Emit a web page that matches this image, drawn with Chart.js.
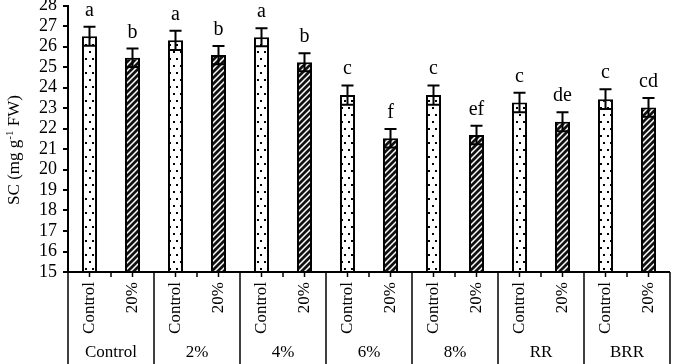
<!DOCTYPE html>
<html lang="en">
<head>
    <meta charset="UTF-8">
    <title>SC by treatment</title>
    <script src="https://cdn.jsdelivr.net/npm/chart.js"></script>
    <style>
        body { margin: 0; background: #fff; }
        canvas { display: block; }
    </style>
</head>
<body>
    <canvas id="scChart" width="673" height="364"></canvas>
    <script>
        // data
        var groups = ['Control', '2%', '4%', '6%', '8%', 'RR', 'BRR'];
        var treatments = ['Control', '20%'];
        var controlMeans = [26.5, 26.3, 26.45, 23.63, 23.63, 23.27, 23.43];
        var stressMeans = [25.45, 25.58, 25.23, 21.52, 21.68, 22.33, 23.03];
        var controlErr = [0.46, 0.47, 0.44, 0.47, 0.47, 0.48, 0.48];
        var stressErr = [0.45, 0.44, 0.44, 0.45, 0.45, 0.46, 0.46];
        var controlLetters = ['a', 'a', 'a', 'c', 'c', 'c', 'c'];
        var stressLetters = ['b', 'b', 'b', 'f', 'ef', 'de', 'cd'];
        var yMin = 15, yMax = 28, yStep = 1;

        var SERIF = 'Liberation Serif';

        // flatten into one bar per treatment within each group
        var labels = [], values = [], errs = [], letters = [], kinds = [];
        groups.forEach(function(g, i) {
            labels.push(treatments[0]); values.push(controlMeans[i]); errs.push(controlErr[i]); letters.push(controlLetters[i]); kinds.push(0);
            labels.push(treatments[1]); values.push(stressMeans[i]); errs.push(stressErr[i]); letters.push(stressLetters[i]); kinds.push(1);
        });

        function dotPattern() {
            var c = document.createElement('canvas');
            c.width = 7; c.height = 14;
            var g = c.getContext('2d');
            g.fillStyle = '#fff'; g.fillRect(0, 0, 7, 14);
            g.fillStyle = '#000';
            g.fillRect(1, 2, 2, 2);
            g.fillRect(5, 9, 2, 2);
            return g.createPattern(c, 'repeat');
        }
        function hatchPattern() {
            var c = document.createElement('canvas');
            c.width = 6; c.height = 6;
            var g = c.getContext('2d');
            g.fillStyle = '#111'; g.fillRect(0, 0, 6, 6);
            g.strokeStyle = '#fff'; g.lineWidth = 1.5;
            g.beginPath();
            g.moveTo(0, 6); g.lineTo(6, 0);
            g.moveTo(-3, 3); g.lineTo(3, -3);
            g.moveTo(3, 9); g.lineTo(9, 3);
            g.stroke();
            return g.createPattern(c, 'repeat');
        }
        var fills = [dotPattern(), hatchPattern()];

        // error bars + significance letters
        var errorBars = {
            id: 'errorBars',
            afterDatasetsDraw: function(chart) {
                var ctx = chart.ctx, y = chart.scales.y;
                var meta = chart.getDatasetMeta(0);
                ctx.save();
                ctx.strokeStyle = '#000';
                ctx.lineWidth = 2;
                meta.data.forEach(function(bar, i) {
                    var top = y.getPixelForValue(values[i] + errs[i]);
                    var bot = y.getPixelForValue(values[i] - errs[i]);
                    ctx.beginPath();
                    ctx.moveTo(bar.x, top); ctx.lineTo(bar.x, bot);
                    ctx.moveTo(bar.x - 6, top); ctx.lineTo(bar.x + 6, top);
                    ctx.moveTo(bar.x - 6, bot); ctx.lineTo(bar.x + 6, bot);
                    ctx.stroke();
                    ctx.fillStyle = '#000';
                    ctx.font = '20px "' + SERIF + '"';
                    ctx.textAlign = 'center';
                    ctx.textBaseline = 'alphabetic';
                    ctx.fillText(letters[i], bar.x, top - 11);
                });
                ctx.restore();
            }
        };

        // two-level category axis and y title drawn by hand
        var groupAxis = {
            id: 'groupAxis',
            afterDraw: function(chart) {
                var ctx = chart.ctx, area = chart.chartArea;
                var meta = chart.getDatasetMeta(0);
                var step = (area.right - area.left) / labels.length;
                var bottom = chart.height;
                ctx.save();
                ctx.strokeStyle = '#000';
                ctx.fillStyle = '#000';
                ctx.lineWidth = 2;
                ctx.beginPath();
                ctx.moveTo(area.left - 1, area.bottom); ctx.lineTo(area.right, area.bottom);
                ctx.stroke();

                ctx.lineWidth = 1.5;
                for (var k = 0; k <= labels.length; k++) {
                    var bx = area.left + k * step;
                    ctx.beginPath();
                    if (k % 2 === 0) {
                        ctx.moveTo(bx, area.bottom); ctx.lineTo(bx, bottom);
                    } else {
                        ctx.moveTo(bx, area.bottom); ctx.lineTo(bx, area.bottom + 5);
                    }
                    ctx.stroke();
                }

                ctx.font = '17px "' + SERIF + '"';
                meta.data.forEach(function(bar, i) {
                    ctx.beginPath();
                    ctx.moveTo(bar.x, area.bottom); ctx.lineTo(bar.x, area.bottom + 5);
                    ctx.stroke();
                    ctx.save();
                    ctx.translate(bar.x, area.bottom + 10);
                    ctx.rotate(-Math.PI / 2);
                    ctx.textAlign = 'right';
                    ctx.textBaseline = 'middle';
                    ctx.fillText(labels[i], 0, 0);
                    ctx.restore();
                });

                ctx.textAlign = 'center';
                ctx.textBaseline = 'middle';
                groups.forEach(function(g, i) {
                    var cx = area.left + (2 * i + 1) * step;
                    ctx.fillText(g, cx, 353);
                });

                // y title: SC (mg g-1 FW) with superscript
                ctx.save();
                ctx.translate(15, 150);
                ctx.rotate(-Math.PI / 2);
                ctx.textBaseline = 'middle';
                ctx.textAlign = 'left';
                var big = '17px "' + SERIF + '"', small = '11px "' + SERIF + '"';
                var p1 = 'SC (mg g', p2 = '-1', p3 = ' FW)';
                ctx.font = big; var w1 = ctx.measureText(p1).width, w3 = ctx.measureText(p3).width;
                ctx.font = small; var w2 = ctx.measureText(p2).width;
                var x0 = -(w1 + w2 + w3) / 2;
                ctx.font = big; ctx.fillText(p1, x0, 0);
                ctx.font = small; ctx.fillText(p2, x0 + w1, -5);
                ctx.font = big; ctx.fillText(p3, x0 + w1 + w2, 0);
                ctx.restore();

                ctx.restore();
            }
        };

        var ctx = document.getElementById('scChart').getContext('2d');
        var scChart = new Chart(ctx, {
            type: 'bar',
            data: {
                labels: labels,
                datasets: [{
                    data: values,
                    backgroundColor: kinds.map(function(k) { return fills[k]; }),
                    borderColor: '#000',
                    borderWidth: 2,
                    borderSkipped: 'bottom',
                    categoryPercentage: 1,
                    barPercentage: 0.35
                }]
            },
            options: {
                responsive: false,
                animation: false,
                layout: { padding: { top: 5.5, right: 3, bottom: 92, left: 0 } },
                plugins: { legend: { display: false }, tooltip: { enabled: false } },
                scales: {
                    x: { display: false },
                    y: {
                        min: yMin,
                        max: yMax,
                        ticks: {
                            stepSize: yStep,
                            autoSkip: false,
                            color: '#000',
                            padding: 6,
                            font: { family: SERIF, size: 18 }
                        },
                        grid: { drawOnChartArea: false, drawTicks: true, tickLength: 5, color: '#000', lineWidth: 2 },
                        border: { color: '#000', width: 2 },
                        afterFit: function(s) { s.width = 68; s.paddingTop = 0; s.paddingBottom = 0; }
                    }
                }
            },
            plugins: [errorBars, groupAxis]
        });
    </script>
</body>
</html>
